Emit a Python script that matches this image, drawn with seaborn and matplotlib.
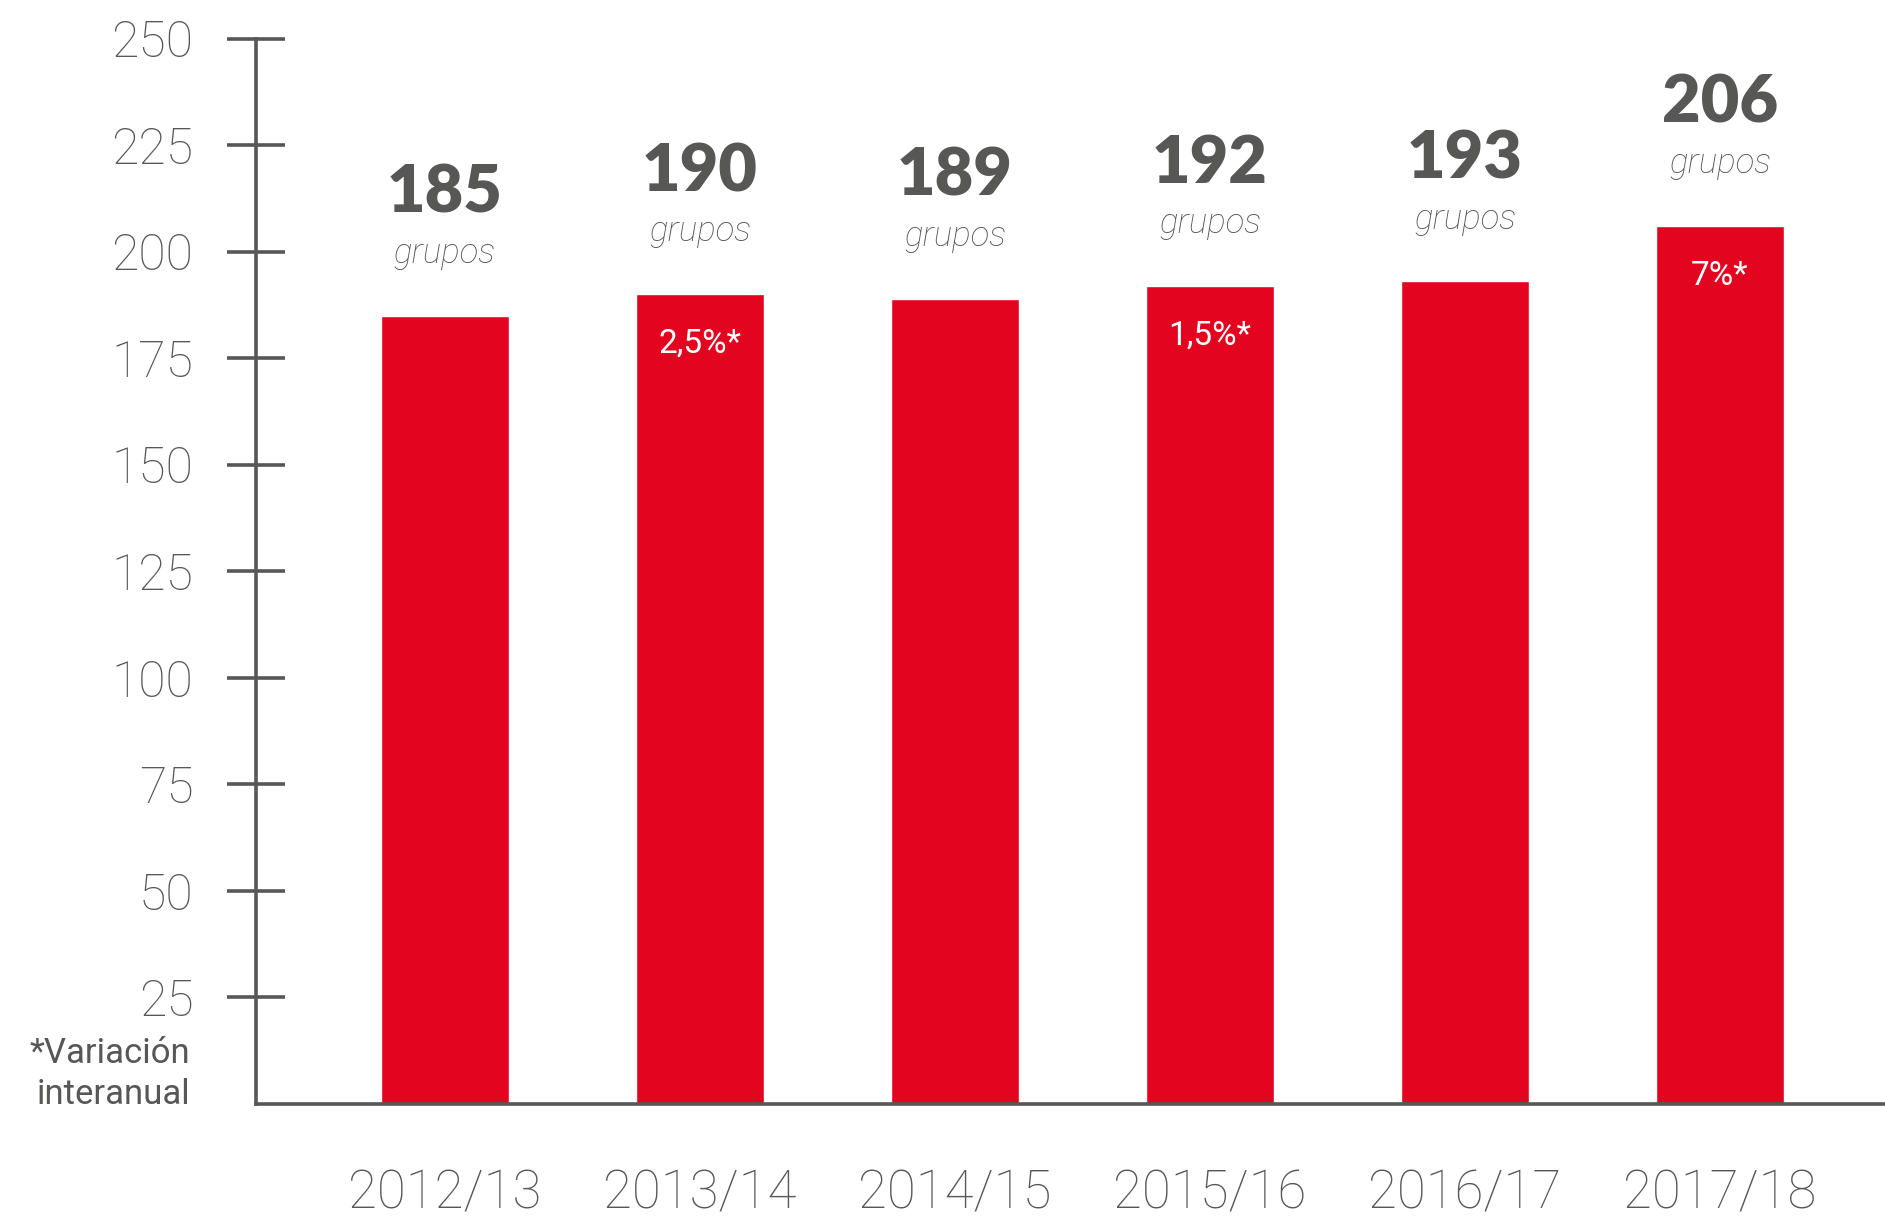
import matplotlib
matplotlib.use("Agg")
import matplotlib.pyplot as plt
import seaborn as sns
import pandas as pd

# Data
temporadas = ["2012/13", "2013/14", "2014/15", "2015/16", "2016/17", "2017/18"]
grupos = [185, 190, 189, 192, 193, 206]
variacion = ["", "2,5%*", "", "1,5%*", "", "7%*"]
y_ticks = [25, 50, 75, 100, 125, 150, 175, 200, 225, 250]
nota = "*Variación\ninteranual"

ROJO = "#E30520"
GRIS = "#575756"
LIGERA = ["Roboto", "DejaVu Sans"]
PESADA = ["Lato", "DejaVu Sans"]

sns.set_theme(style="white")
plt.rcParams["font.family"] = LIGERA

df = pd.DataFrame({"temporada": temporadas, "grupos": grupos})

fig = plt.figure(figsize=(18.85, 12.2), dpi=100)
ax = fig.add_axes([0.1358, 0.0951, 0.8642, 0.8733])

sns.barplot(data=df, x="temporada", y="grupos", color=ROJO, saturation=1,
            width=0.5, ax=ax)

ax.set_ylim(0, 250)
ax.set_xlim(-0.741, 5.647)
ax.set_yticks(y_ticks)
ax.set_xlabel("")
ax.set_ylabel("")

for side in ("top", "right"):
    ax.spines[side].set_visible(False)
for side in ("left", "bottom"):
    ax.spines[side].set_color(GRIS)
    ax.spines[side].set_linewidth(2.6)

ax.tick_params(axis="y", direction="inout", length=42, width=2.6, color=GRIS,
               labelsize=36, labelcolor=GRIS, pad=24, left=True)
ax.tick_params(axis="x", length=0, labelsize=38, labelcolor=GRIS, pad=46)
for lbl in ax.get_yticklabels() + ax.get_xticklabels():
    lbl.set_fontweight("light")

for i, (v, pct) in enumerate(zip(grupos, variacion)):
    ax.text(i, v + 24.2, f"{v}", ha="center", va="baseline", fontsize=48,
            fontweight="heavy", color=GRIS, family=PESADA)
    ax.text(i, v + 12.4, "grupos", ha="center", va="baseline", fontsize=25,
            fontstyle="italic", fontweight="light", color=GRIS)
    if pct:
        ax.text(i, v - 13.8, pct, ha="center", va="baseline", fontsize=24,
                fontweight="normal", color="white")

fig.text(190 / 1885, 1 - 1074 / 1220, nota, ha="right", va="center",
         fontsize=25, fontweight="normal", color=GRIS, linespacing=1.3)

fig.savefig("out.png", dpi=100, facecolor="white")
